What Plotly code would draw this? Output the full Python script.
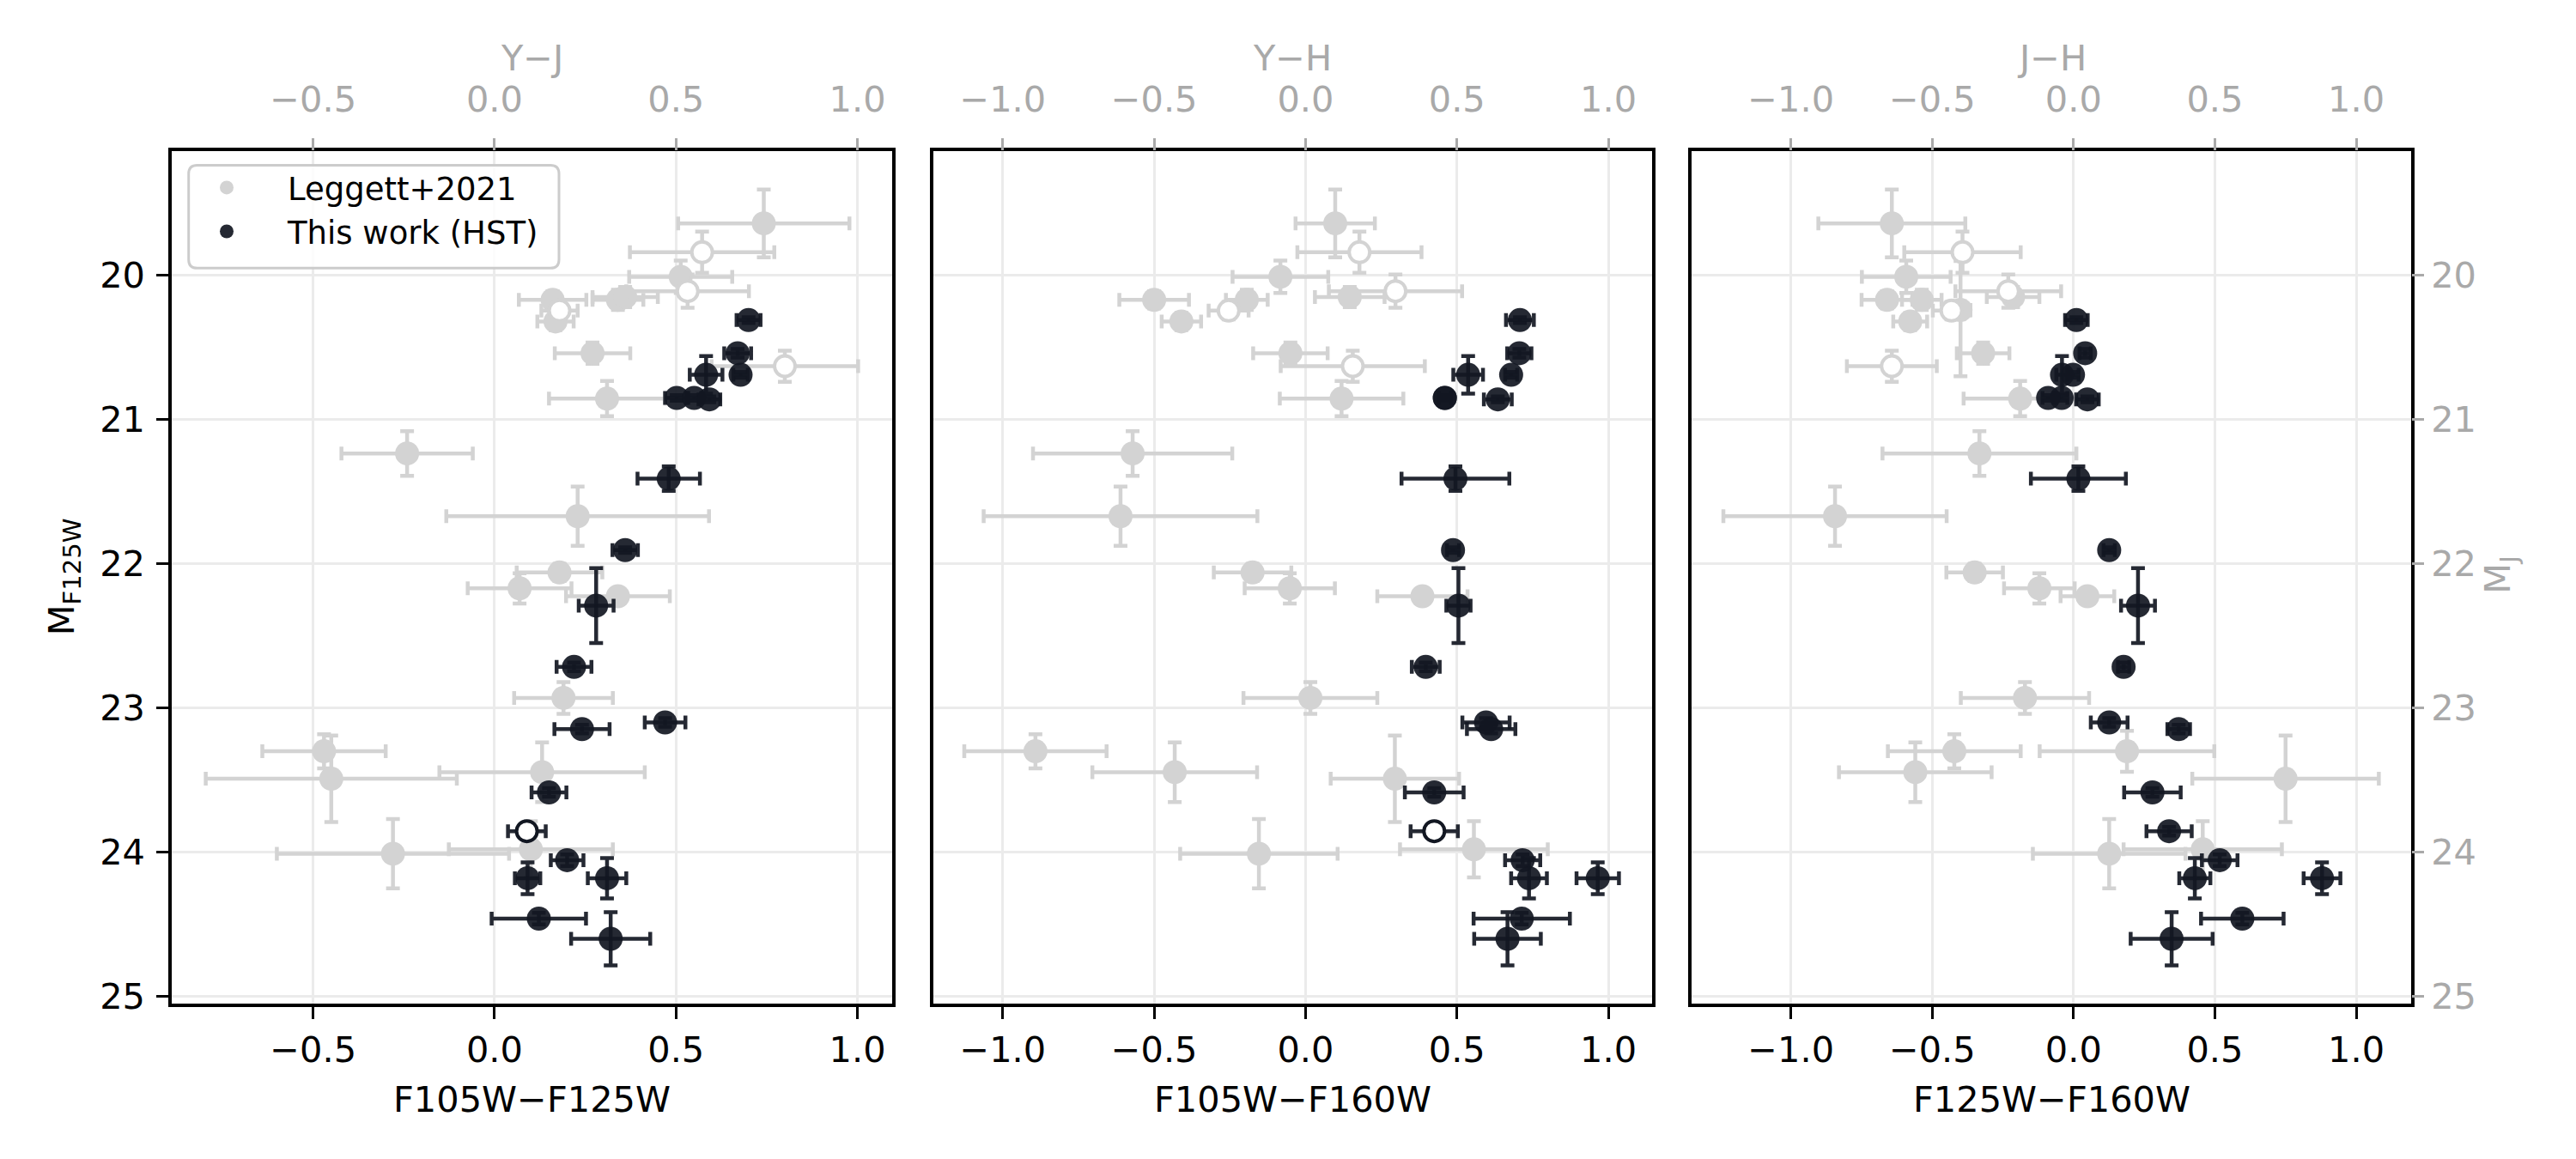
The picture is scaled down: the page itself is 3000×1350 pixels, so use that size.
import plotly.graph_objects as go

# ---------------- data ----------------
# Leggett+2021 objects (shown in all three panels)
L_M = [19.64, 19.84, 20.01, 20.11, 20.17, 20.17, 20.15, 20.245, 20.32, 20.54, 20.63, 20.855,
       21.235, 21.67, 22.06, 22.17, 22.225, 22.93, 23.30, 23.445, 23.49, 23.98, 24.01]
L_M_err = [0.235, 0.143, 0.112, 0.115, 0.06, 0.07, 0.07, 0.06, 0.06, 0.074, 0.108, 0.122,
           0.155, 0.205, 0.06, 0.105, 0.05, 0.11, 0.118, 0.207, 0.30, 0.195, 0.24]
L_open = [False, True, False, True, False, False, False, True, False, False, True, False,
          False, False, False, False, False, False, False, False, False, False, False]
L_YJ = [0.742, 0.572, 0.513, 0.532, 0.16, 0.34, 0.36, 0.179, 0.168, 0.27, 0.80, 0.31,
        -0.241, 0.229, 0.179, 0.069, 0.34, 0.19, -0.47, 0.131, -0.45, 0.10, -0.28]
L_YJ_err = [0.236, 0.199, 0.142, 0.169, 0.093, 0.07, 0.09, 0.05, 0.05, 0.104, 0.202, 0.16,
            0.181, 0.362, 0.118, 0.143, 0.143, 0.136, 0.17, 0.283, 0.346, 0.226, 0.32]
L_YH = [0.098, 0.178, -0.083, 0.297, -0.50, -0.194, 0.146, -0.254, -0.41, -0.05, 0.156, 0.119,
        -0.571, -0.611, -0.175, -0.052, 0.386, 0.016, -0.892, -0.432, 0.295, 0.556, -0.154]
L_YH_err = [0.131, 0.205, 0.158, 0.22, 0.115, 0.069, 0.115, 0.066, 0.065, 0.123, 0.238, 0.204,
            0.329, 0.452, 0.128, 0.149, 0.149, 0.221, 0.235, 0.272, 0.212, 0.244, 0.26]
L_JH = [-0.643, -0.393, -0.592, -0.231, -0.66, -0.537, -0.214, -0.432, -0.578, -0.32, -0.643, -0.189,
        -0.333, -0.844, -0.35, -0.121, 0.049, -0.172, -0.422, -0.56, 0.75, 0.457, 0.126]
L_JH_err = [0.26, 0.206, 0.157, 0.187, 0.09, 0.07, 0.093, 0.066, 0.06, 0.093, 0.159, 0.2,
            0.343, 0.395, 0.1, 0.125, 0.095, 0.227, 0.235, 0.27, 0.33, 0.28, 0.27]

# Leggett+2021 objects with J-H only (third panel)
LX_M = [20.24, 23.30]
LX_M_err_minus = [0.34, 0.142]
LX_M_err_plus = [0.46, 0.142]
LX_JH = [-0.40, 0.189]
LX_JH_err = [0.035, 0.309]

# This work (HST)
H_M = [20.31, 20.54, 20.69, 20.69, 20.85, 20.85, 20.86, 21.41, 21.905, 22.29,
       22.715, 23.10, 23.146, 23.585, 23.854, 24.055, 24.18, 24.18, 24.46, 24.60]
H_M_err = [0.02, 0.03, 0.13, 0.02, 0.02, 0.02, 0.02, 0.085, 0.02, 0.26,
           0.03, 0.03, 0.03, 0.03, 0.03, 0.04, 0.11, 0.14, 0.04, 0.184]
H_open_F105W = [False] * 14 + [True] + [False] * 5
H_open_F125W = [False] * 20
H_YJ = [0.70, 0.67, 0.583, 0.678, 0.502, 0.55, 0.592, 0.48, 0.36, 0.28,
        0.219, 0.47, 0.241, 0.15, 0.089, 0.20, 0.091, 0.31, 0.122, 0.32]
H_YJ_err = [0.033, 0.037, 0.045, 0.02, 0.032, 0.02, 0.03, 0.086, 0.035, 0.048,
            0.048, 0.056, 0.076, 0.048, 0.052, 0.045, 0.035, 0.053, 0.13, 0.109]
H_YH = [0.708, 0.706, 0.537, 0.679, 0.46, 0.46, 0.635, 0.495, 0.487, 0.505,
        0.397, 0.596, 0.613, 0.425, 0.425, 0.717, 0.965, 0.738, 0.714, 0.667]
H_YH_err = [0.046, 0.04, 0.049, 0.02, 0.02, 0.02, 0.046, 0.178, 0.02, 0.04,
            0.046, 0.078, 0.08, 0.097, 0.078, 0.058, 0.07, 0.059, 0.159, 0.11]
H_JH = [0.01, 0.041, -0.041, -0.002, -0.042, -0.09, 0.049, 0.017, 0.126, 0.228,
        0.177, 0.126, 0.372, 0.279, 0.338, 0.517, 0.879, 0.429, 0.597, 0.347]
H_JH_err = [0.04, 0.02, 0.02, 0.02, 0.02, 0.02, 0.04, 0.168, 0.02, 0.06,
            0.02, 0.065, 0.04, 0.1, 0.08, 0.063, 0.065, 0.055, 0.146, 0.145]

X_TITLES = ["F105W\u2212F125W", "F105W\u2212F160W", "F125W\u2212F160W"]
TOP_TITLES = ["Y\u2212J", "Y\u2212H", "J\u2212H"]
Y_TITLE = "M<sub>F125W</sub>"
Y2_TITLE = "M<sub>J</sub>"
SERIES_NAMES = ["Leggett+2021", "This work (HST)"]
X_TICKS = [[-0.5, 0.0, 0.5, 1.0], [-1.0, -0.5, 0.0, 0.5, 1.0], [-1.0, -0.5, 0.0, 0.5, 1.0]]
X_TICKTEXT = [[f"{v:.1f}".replace("-", "\u2212") for v in t] for t in X_TICKS]
Y_TICKS = [20, 21, 22, 23, 24, 25]

# ---------------- styling ----------------
W, H = 3000, 1350
FONT = "DejaVu Sans"
GRAY = "#d3d3d3"
DARK = "#121722"
DARK_A = "rgba(18,23,34,0.92)"
SIDE_GRAY = "#a9a9a9"
FS = 41.5
MS = 28
EW = 4.5
CAP = 8

X_DOM = [[0.0641, 0.3437], [0.3595, 0.6385], [0.6541, 0.9333]]
X_RNG = [[-0.889, 1.096], [-1.2305, 1.143], [-1.3506, 1.194]]
Y_DOM = [0.1296, 0.8744]
Y_RNG = [25.05, 19.136]

fig = go.Figure()


def pick(seq, mask, keep):
    return [v for v, m in zip(seq, mask) if m == keep]


def add_points(xs, xe, ys, ye, color, ecolor, opn, xa, ya, name=None, legend=False,
               ye_minus=None, opacity=1.0):
    err_y = dict(type="data", array=ye, color=ecolor, thickness=EW, width=CAP)
    if ye_minus is not None:
        err_y["symmetric"] = False
        err_y["arrayminus"] = ye_minus
    if opn:
        marker = dict(size=MS - 4, color="white", line=dict(color=color, width=4), opacity=opacity)
    else:
        marker = dict(size=MS, color=color, line=dict(width=0), opacity=opacity)
    fig.add_trace(go.Scatter(
        x=xs, y=ys, mode="markers", xaxis=xa, yaxis=ya,
        marker=marker,
        error_x=dict(type="data", array=xe, color=ecolor, thickness=EW, width=CAP),
        error_y=err_y,
        name=name, showlegend=legend, legendgroup=name, hoverinfo="x+y",
    ))


panels = [
    (L_YJ, L_YJ_err, H_YJ, H_YJ_err, H_open_F105W),
    (L_YH, L_YH_err, H_YH, H_YH_err, H_open_F105W),
    (L_JH, L_JH_err, H_JH, H_JH_err, H_open_F125W),
]

for i, (lx, lxe, hx, hxe, hopen) in enumerate(panels):
    xa = "x" if i == 0 else f"x{i + 1}"
    ya = "y" if i == 0 else f"y{i + 1}"
    # Leggett filled
    add_points(pick(lx, L_open, False), pick(lxe, L_open, False),
               pick(L_M, L_open, False), pick(L_M_err, L_open, False),
               GRAY, GRAY, False, xa, ya, name=SERIES_NAMES[0], legend=(i == 0))
    if i == 2:
        add_points(LX_JH, LX_JH_err, LX_M, LX_M_err_plus, GRAY, GRAY, False, xa, ya,
                   name=SERIES_NAMES[0], ye_minus=LX_M_err_minus)
    # Leggett open
    add_points(pick(lx, L_open, True), pick(lxe, L_open, True),
               pick(L_M, L_open, True), pick(L_M_err, L_open, True),
               GRAY, GRAY, True, xa, ya, name=SERIES_NAMES[0])
    # HST filled
    add_points(pick(hx, hopen, False), pick(hxe, hopen, False),
               pick(H_M, hopen, False), pick(H_M_err, hopen, False),
               DARK, DARK_A, False, xa, ya, name=SERIES_NAMES[1], legend=(i == 0), opacity=0.92)
    if any(hopen):
        add_points(pick(hx, hopen, True), pick(hxe, hopen, True),
                   pick(H_M, hopen, True), pick(H_M_err, hopen, True),
                   DARK, DARK_A, True, xa, ya, name=SERIES_NAMES[1])

# invisible companions so that the secondary (top / right) axes get drawn
for i, lx in enumerate([L_YJ, L_YH, L_JH]):
    fig.add_trace(go.Scatter(x=lx, y=L_M, mode="markers", xaxis=f"x{i + 4}",
                             yaxis="y" if i == 0 else f"y{i + 1}",
                             marker=dict(size=1, opacity=0), showlegend=False, hoverinfo="skip"))
fig.add_trace(go.Scatter(x=L_JH, y=L_M, mode="markers", xaxis="x3", yaxis="y4",
                         marker=dict(size=1, opacity=0), showlegend=False, hoverinfo="skip"))

axis_common = dict(ticks="outside", ticklen=14, tickwidth=3.3, zeroline=False,
                   tickfont=dict(family=FONT, size=FS, color="black"))
layout = dict(
    width=W, height=H, margin=dict(l=0, r=0, t=0, b=0),
    paper_bgcolor="white", plot_bgcolor="white",
    font=dict(family=FONT, size=FS, color="black"),
)
for i in range(3):
    sx = "" if i == 0 else str(i + 1)
    layout[f"xaxis{sx}"] = dict(
        axis_common, domain=X_DOM[i], range=X_RNG[i], anchor=f"y{sx}",
        tickvals=X_TICKS[i], ticktext=X_TICKTEXT[i], tickcolor="black",
        showline=True, mirror=True, linecolor="black", linewidth=4,
        showgrid=True, gridcolor="#ebebeb", gridwidth=3,
    )
    layout[f"xaxis{i + 4}"] = dict(
        axis_common, overlaying=f"x{sx}", side="top", anchor=f"y{sx}", range=X_RNG[i],
        tickvals=X_TICKS[i], ticktext=X_TICKTEXT[i], tickcolor=SIDE_GRAY,
        tickfont=dict(family=FONT, size=FS, color=SIDE_GRAY),
        showline=False, showgrid=False, ticklabelstandoff=14,
    )
    yd = dict(
        axis_common, domain=Y_DOM, range=Y_RNG, anchor=f"x{sx}",
        tickvals=Y_TICKS, tickcolor="black",
        showline=True, mirror=True, linecolor="black", linewidth=4,
        showgrid=True, gridcolor="#ebebeb", gridwidth=3,
    )
    if i > 0:
        yd.update(showticklabels=False, ticks="")
    else:
        yd.update(ticklabelstandoff=5)
    layout[f"yaxis{sx}"] = yd
layout["yaxis4"] = dict(
    axis_common, overlaying="y3", side="right", anchor="x3", range=Y_RNG,
    tickvals=Y_TICKS, tickcolor=SIDE_GRAY,
    tickfont=dict(family=FONT, size=FS, color=SIDE_GRAY),
    showline=False, showgrid=False,
)

annotations = []
for i in range(3):
    cx = (X_DOM[i][0] + X_DOM[i][1]) / 2
    annotations.append(dict(text=X_TITLES[i], x=cx, y=1 - 1288 / H, xref="paper", yref="paper",
                            showarrow=False, xanchor="center", yanchor="middle",
                            font=dict(family=FONT, size=FS, color="black")))
    annotations.append(dict(text=TOP_TITLES[i], x=cx, y=1 - 60 / H, xref="paper", yref="paper",
                            showarrow=False, xanchor="center", yanchor="middle",
                            font=dict(family=FONT, size=FS, color=SIDE_GRAY)))
annotations.append(dict(text=Y_TITLE, x=66 / W, y=0.502, xref="paper", yref="paper",
                        showarrow=False, textangle=-90, xanchor="center", yanchor="middle",
                        font=dict(family=FONT, size=FS, color="black")))
annotations.append(dict(text=Y2_TITLE, x=2904 / W, y=0.504, xref="paper", yref="paper",
                        showarrow=False, textangle=-90, xanchor="center", yanchor="middle",
                        font=dict(family=FONT, size=FS, color=SIDE_GRAY)))
layout["annotations"] = annotations

# rounded legend frame
x0, x1 = 211.7 / W, 643 / W
y1, y0 = 1 - 186.7 / H, 1 - 308 / H
rx, ry = 10 / W, 10 / H
path = (f"M {x0 + rx},{y1} L {x1 - rx},{y1} Q {x1},{y1} {x1},{y1 - ry} "
        f"L {x1},{y0 + ry} Q {x1},{y0} {x1 - rx},{y0} L {x0 + rx},{y0} "
        f"Q {x0},{y0} {x0},{y0 + ry} L {x0},{y1 - ry} Q {x0},{y1} {x0 + rx},{y1} Z")
layout["shapes"] = [dict(type="path", path=path, xref="paper", yref="paper",
                         fillcolor="rgba(255,255,255,0.85)", line=dict(color="#cccccc", width=3),
                         layer="above")]
layout["legend"] = dict(x=185 / W, y=1 - 182 / H, xanchor="left", yanchor="top",
                        bgcolor="rgba(0,0,0,0)", borderwidth=0,
                        font=dict(family=FONT, size=37, color="black"),
                        itemwidth=132, tracegroupgap=0)
fig.update_layout(**layout)
fig.write_html("out.html")
